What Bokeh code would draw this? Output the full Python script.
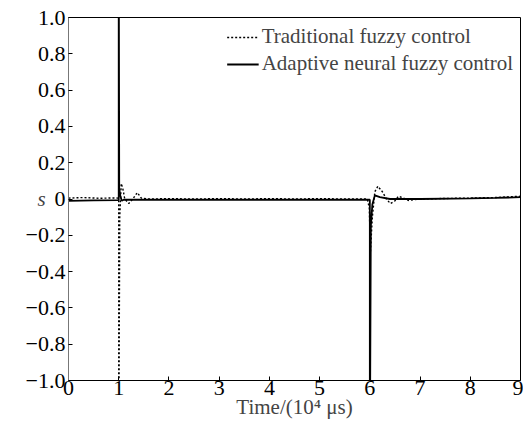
from bokeh.plotting import figure
from bokeh.models import FixedTicker, Label, Legend, LegendItem, CustomJSTickFormatter, LinearAxis
from bokeh.embed import file_html
from bokeh.resources import INLINE

# Traditional fuzzy control (dotted)
t_trad = [0.0, 0.3, 0.6, 0.9, 0.99, 1.0, 1.0, 1.02, 1.05, 1.08, 1.12, 1.2, 1.28, 1.37, 1.45,
          1.6, 2.0, 2.5, 3.0, 3.5, 4.0, 4.5, 5.0, 5.5, 5.95, 5.99, 6.01, 6.05, 6.1, 6.16,
          6.25, 6.33, 6.41, 6.5, 6.57, 6.67, 6.77, 7.0, 7.5, 8.0, 8.5, 9.0]
s_trad = [0.005, 0.008, 0.004, 0.006, 0.005, 0.0, -1.5, -0.1, 0.085, 0.06, 0.0, -0.025, 0.0, 0.035, 0.005,
          0.0, 0.002, 0.0, 0.002, 0.0, 0.002, 0.0, 0.002, 0.0, 0.0, -0.05, -0.3, -0.1, 0.04, 0.07,
          0.04, 0.0, -0.025, -0.01, 0.015, 0.005, -0.008, 0.0, 0.003, 0.005, 0.008, 0.015]

# Adaptive neural fuzzy control (solid)
t_adapt = [0.0, 0.5, 0.99, 1.0, 1.0, 1.01, 1.03, 1.06, 1.1, 1.2, 1.5, 2.0, 3.0, 4.0, 5.0, 5.5,
           5.99, 6.0, 6.0, 6.02, 6.05, 6.1, 6.2, 6.4, 6.7, 7.0, 8.0, 8.5, 9.0]
s_adapt = [-0.01, -0.008, -0.006, -0.006, 1.5, 0.06, 0.02, -0.01, -0.004, -0.003, -0.004, -0.004, -0.004,
           -0.004, -0.004, -0.004, -0.004, -0.004, -1.5, -0.15, -0.03, 0.02, 0.01, 0.0, 0.0, 0.0,
           0.003, 0.006, 0.01]

x_ticks = [0, 1, 2, 3, 4, 5, 6, 7, 8, 9]
y_ticks = [-1.0, -0.8, -0.6, -0.4, -0.2, 0.0, 0.2, 0.4, 0.6, 0.8, 1.0]

FONT = "Liberation Serif"

p = figure(width=523, height=426, output_backend="svg", toolbar_location=None,
           x_range=(0, 9), y_range=(-1, 1),
           x_axis_location=None, y_axis_location=None,
           min_border_left=68, min_border_right=3, min_border_top=17, min_border_bottom=46)
p.grid.visible = False
p.outline_line_color = "black"
p.outline_line_width = 1
p.background_fill_color = "white"
p.border_fill_color = "white"

r1 = p.line(t_trad, s_trad, line_color="black", line_width=1.4, line_dash="2 2")
r2 = p.line(t_adapt, s_adapt, line_color="black", line_width=1.8)

common = dict(major_tick_in=4, major_tick_out=0, minor_tick_in=0, minor_tick_out=0,
              major_label_text_font=FONT, major_label_text_font_size="22px",
              major_label_text_color="black", major_tick_line_color="black")

xax = LinearAxis(ticker=FixedTicker(ticks=x_ticks),
                 formatter=CustomJSTickFormatter(code="return tick.toFixed(0);"),
                 axis_line_color="black", major_label_standoff=0,
                 axis_label="Time/(10\u2074 \u03bcs)", axis_label_text_font=FONT,
                 axis_label_text_font_size="21px", axis_label_text_font_style="normal",
                 axis_label_standoff=-3, **common)
yax = LinearAxis(ticker=FixedTicker(ticks=y_ticks),
                 formatter=CustomJSTickFormatter(code="""
if (Math.abs(tick) < 1e-9) { return '0'; }
const s = Math.abs(tick).toFixed(1);
return tick < 0 ? '\\u2212' + s : s;
"""),
                 axis_line_color="#777777", major_label_standoff=3,
                 axis_label="s", axis_label_text_font=FONT,
                 axis_label_text_font_size="21px", axis_label_text_font_style="italic",
                 axis_label_standoff=-23, **common)
if hasattr(yax, "axis_label_orientation"):
    yax.axis_label_orientation = "horizontal"
p.add_layout(xax, "below")
p.add_layout(yax, "left")

legend = Legend(items=[LegendItem(label="Traditional fuzzy control", renderers=[r1]),
                       LegendItem(label="Adaptive neural fuzzy control", renderers=[r2])],
                location="top_right")
legend.border_line_color = None
legend.background_fill_alpha = 0
legend.label_text_font = FONT
legend.label_text_font_size = "21px"
legend.glyph_width = 32
legend.label_height = 20
legend.glyph_height = 20
legend.spacing = 2
legend.padding = 1
legend.margin = 7
legend.label_standoff = 3
p.add_layout(legend)

open("out.html", "w").write(file_html(p, INLINE))
